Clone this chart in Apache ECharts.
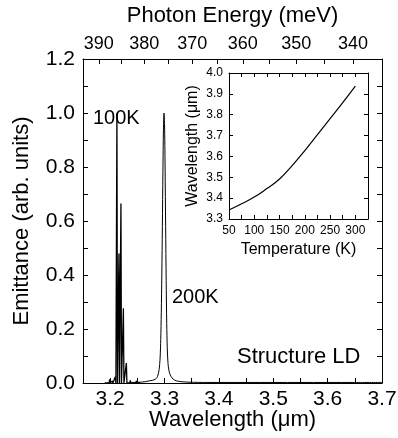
<!DOCTYPE html>
<html>
<head>
<meta charset="utf-8">
<script src="https://cdn.jsdelivr.net/npm/echarts@6/dist/echarts.min.js"></script>
<style>
  html, body { margin: 0; padding: 0; background: #fff; }
  #chart { width: 398px; height: 438px; }
</style>
</head>
<body>
<div id="chart"></div>
<script>
// 100K spectrum (sharp lines)
const wl100 = [3.190, 3.1980, 3.1990, 3.2000, 3.2030, 3.2040, 3.2050, 3.2085, 3.2095, 3.2105, 3.2114, 3.2124, 3.2134, 3.2151, 3.2161, 3.2171, 3.2188, 3.2198, 3.2208, 3.2233, 3.2243, 3.2253, 3.2288, 3.2298, 3.2308, 3.2361, 3.2371, 3.2381, 3.2472, 3.2482, 3.2492, 3.255]
const em100 = [0, 0, 0.014, 0, 0, 0.008, 0, 0, 0.023, 0, 0, 1.0, 0, 0, 0.48, 0, 0, 0.665, 0, 0, 0.277, 0, 0, 0.074, 0, 0, 0.010, 0, 0, 0.008, 0, 0]

// 200K spectrum
const wl200 = [3.240, 3.255, 3.265, 3.272, 3.278, 3.283, 3.286, 3.288, 3.290, 3.291, 3.292, 3.293, 3.294, 3.295, 3.296, 3.297, 3.298, 3.299, 3.300, 3.301, 3.302, 3.303, 3.304, 3.305, 3.306, 3.307, 3.309, 3.312, 3.316, 3.322, 3.330, 3.345, 3.38, 3.45, 3.55, 3.65, 3.70]
const em200 = [0.002, 0.003, 0.005, 0.008, 0.010, 0.014, 0.020, 0.030, 0.050, 0.068, 0.10, 0.16, 0.26, 0.40, 0.58, 0.78, 0.94, 1.00, 0.96, 0.80, 0.58, 0.38, 0.22, 0.13, 0.085, 0.06, 0.038, 0.024, 0.014, 0.008, 0.005, 0.003, 0.002, 0.002, 0.002, 0.002, 0.002]

// inset: peak wavelength vs temperature
const tempK = [50, 75, 100, 125, 150, 175, 200, 225, 250, 275, 300]
const wlTemp = [3.343, 3.373, 3.405, 3.446, 3.492, 3.556, 3.628, 3.704, 3.781, 3.858, 3.937]

// top axis (photon energy, meV)
const energyLabels = [390, 380, 370, 360, 350, 340]
const energyTicks = [390, 385, 380, 375, 370, 365, 360, 355, 350, 345, 340]

const HC = 1239.84 // meV * um
const font = '"Liberation Sans", Arial, Helvetica, sans-serif'
const black = '#000'

const chart = echarts.init(document.getElementById('chart'), null, { renderer: 'canvas' })

const axisBase = {
  axisLine: { show: true, onZero: false, lineStyle: { color: black, width: 1 } },
  splitLine: { show: false },
  axisTick: { show: true, inside: true, length: 5, lineStyle: { color: black } }
}

const option = {
  animation: false,
  backgroundColor: '#fff',
  textStyle: { fontFamily: font, color: black },
  grid: [
    { left: 83, right: 16, top: 59, bottom: 55, outerBoundsMode: 'none' },
    { left: 229, right: 30, top: 73, height: 146, outerBoundsMode: 'none' }
  ],
  xAxis: [
    {
      ...axisBase,
      gridIndex: 0, type: 'value', position: 'bottom',
      min: 3.15, max: 3.7, interval: 0.05,
      axisLabel: {
        fontSize: 21, color: black, fontFamily: font, margin: 6,
        formatter: v => (Math.round(v * 100) % 10 === 0 ? v.toFixed(1) : '')
      },
      name: 'Wavelength (\u03bcm)', nameLocation: 'middle', nameGap: 26, nameMoveOverlap: false,
      nameTextStyle: { fontSize: 22, color: black, fontFamily: font, verticalAlign: 'top' }
    },
    {
      ...axisBase,
      gridIndex: 0, type: 'value', position: 'top',
      min: 3.15, max: 3.7,
      axisTick: { show: true, inside: true, length: 5, lineStyle: { color: black },
        customValues: energyTicks.map(e => HC / e) },
      axisLabel: {
        fontSize: 18, color: black, fontFamily: font, margin: 6,
        customValues: energyLabels.map(e => HC / e),
        formatter: v => String(Math.round(HC / v))
      },
      name: 'Photon Energy (meV)', nameLocation: 'middle', nameGap: 32,
      nameTextStyle: { fontSize: 22, color: black, fontFamily: font }
    },
    {
      ...axisBase,
      gridIndex: 1, type: 'value', position: 'bottom',
      min: 50, max: 325, interval: 25,
      axisTick: { show: true, inside: true, length: 4, lineStyle: { color: black } },
      axisLabel: {
        fontSize: 12, color: black, fontFamily: font, margin: 6,
        formatter: v => (v % 50 === 0 ? String(v) : '')
      },
      name: 'Temperature (K)', nameLocation: 'middle', nameGap: 23,
      nameTextStyle: { fontSize: 16, color: black, fontFamily: font, verticalAlign: 'top' }
    },
    {
      ...axisBase,
      gridIndex: 1, type: 'value', position: 'top',
      min: 50, max: 325, interval: 25,
      axisTick: { show: true, inside: true, length: 4, lineStyle: { color: black } },
      axisLabel: { show: false }
    }
  ],
  yAxis: [
    {
      ...axisBase,
      gridIndex: 0, type: 'value', position: 'left',
      min: 0, max: 1.2, interval: 0.1,
      axisLabel: {
        fontSize: 21, color: black, fontFamily: font, margin: 8,
        formatter: v => (Math.round(v * 10) % 2 === 0 ? v.toFixed(1) : '')
      },
      name: 'Emittance (arb. units)', nameLocation: 'middle', nameGap: 50, nameRotate: 90,
      nameTextStyle: { fontSize: 22, color: black, fontFamily: font }
    },
    {
      ...axisBase,
      gridIndex: 0, type: 'value', position: 'right',
      min: 0, max: 1.2, interval: 0.1,
      axisLabel: { show: false }
    },
    {
      ...axisBase,
      gridIndex: 1, type: 'value', position: 'left',
      min: 3.3, max: 4.0, interval: 0.1,
      axisTick: { show: true, inside: true, length: 4, lineStyle: { color: black } },
      axisLabel: {
        fontSize: 12, color: black, fontFamily: font, margin: 6,
        formatter: v => v.toFixed(1)
      },
      name: 'Wavelength (\u03bcm)', nameLocation: 'middle', nameGap: 28, nameRotate: 90,
      nameTextStyle: { fontSize: 16, color: black, fontFamily: font }
    },
    {
      ...axisBase,
      gridIndex: 1, type: 'value', position: 'right',
      min: 3.3, max: 4.0, interval: 0.1,
      axisTick: { show: true, inside: true, length: 4, lineStyle: { color: black } },
      axisLabel: { show: false }
    }
  ],
  graphic: [
    { type: 'text', left: 93, top: 108, style: { text: '100K', font: '20px ' + font, fill: black } },
    { type: 'text', left: 172, top: 287, style: { text: '200K', font: '20px ' + font, fill: black } },
    { type: 'text', left: 237, top: 346, style: { text: 'Structure LD', font: '22px ' + font, fill: black } }
  ],
  series: [
    {
      name: '100K', type: 'line', xAxisIndex: 0, yAxisIndex: 0,
      data: wl100.map((x, i) => [x, em100[i]]),
      symbol: 'none', lineStyle: { color: black, width: 1.3 }
    },
    {
      name: '200K', type: 'line', xAxisIndex: 0, yAxisIndex: 0,
      data: wl200.map((x, i) => [x, em200[i]]),
      symbol: 'none', smooth: 0.3, lineStyle: { color: black, width: 1 }
    },
    {
      name: 'inset', type: 'line', xAxisIndex: 2, yAxisIndex: 2,
      data: tempK.map((x, i) => [x, wlTemp[i]]),
      symbol: 'none', smooth: true, lineStyle: { color: black, width: 1.2 }
    }
  ]
}

chart.setOption(option)
</script>
</body>
</html>
